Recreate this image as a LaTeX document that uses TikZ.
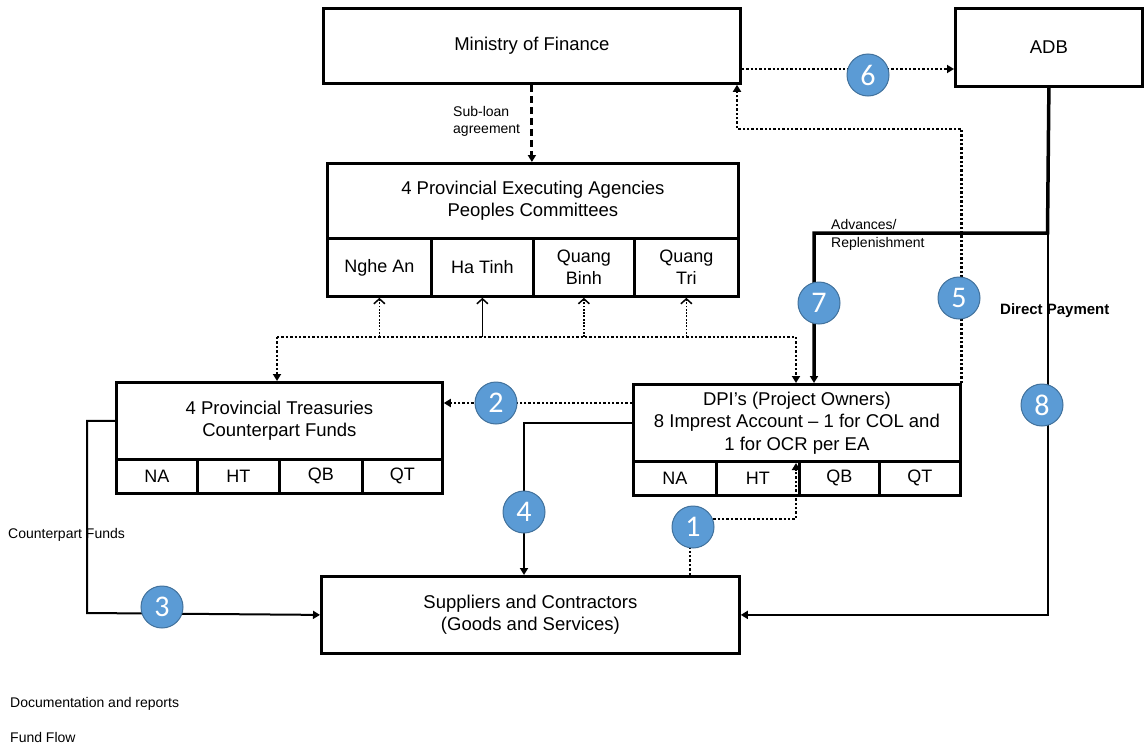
\documentclass[tikz,border=0pt]{standalone}
\usepackage{fontspec}
\setmainfont{Liberation Sans}
\newfontfamily\numfont{Carlito}
\usetikzlibrary{arrows.meta,calc}
\definecolor{cblue}{HTML}{5B9BD5}
\definecolor{cblueb}{HTML}{41719C}
\tikzset{
 box/.style={draw, line width=2.8pt, inner sep=0pt, align=center, anchor=north west, font=\fontsize{18.5}{22.5}\selectfont},
 cell/.style={box, font=\fontsize{18}{22}\selectfont},
 num/.style={circle, fill=cblue, draw=cblueb, line width=1pt, minimum size=42pt, inner sep=0pt, text=white, font=\numfont\fontsize{30}{30}\selectfont},
 lbl/.style={inner sep=0pt, align=left, font=\fontsize{14}{17.5}\selectfont},
 fund/.style={line width=2pt},
 strong/.style={line width=3.5pt},
 doc/.style={line width=2.7pt, dash pattern=on 2.4pt off 2pt},
 thindoc/.style={line width=1.8pt, dash pattern=on 1.8pt off 1.5pt},
 subloan/.style={line width=3pt, dash pattern=on 7pt off 4pt},
 tip/.style={-{Triangle[length=7pt,width=8pt]}},
 opentip/.style={-{Straight Barb[length=5pt,width=11pt,line width=1.5pt]}},
}
\begin{document}
\begin{tikzpicture}[x=1pt,y=-1pt]
\useasboundingbox (0,0) rectangle (1144,747);
% boxes
\node[box, minimum width=417pt, minimum height=75pt] (mof) at (322,7) {Ministry of Finance};
\node[box, minimum width=187pt, minimum height=78pt] (adb) at (954,7) {ADB};
\node[box, minimum width=411pt, minimum height=75pt] (pea) at (326,162) {4 Provincial Executing Agencies\\Peoples Committees};
\node[cell, minimum width=104pt, minimum height=58pt] (pna) at (326,237) {Nghe An};
\node[cell, minimum width=102pt, minimum height=58pt] (pht) at (430,237) {Ha Tinh};
\node[cell, minimum width=101pt, minimum height=58pt] (pqb) at (532,237) {Quang\\Binh};
\node[cell, minimum width=104pt, minimum height=58pt] (pqt) at (633,237) {Quang\\Tri};
\node[box, minimum width=326pt, minimum height=77pt] (tre) at (115,381) {4 Provincial Treasuries\\Counterpart Funds};
\node[cell, minimum width=81pt, minimum height=34pt] (tna) at (115,458) {NA};
\node[cell, minimum width=82pt, minimum height=34pt] (tht) at (196,458) {HT};
\node[cell, minimum width=83pt, minimum height=34pt] (tqb) at (278,458) {QB};
\node[cell, minimum width=80pt, minimum height=34pt] (tqt) at (361,458) {QT};
\node[box, minimum width=327pt, minimum height=77pt] (dpi) at (632,383) {DPI’s (Project Owners)\\8 Imprest Account – 1 for COL and\\1 for OCR per EA};
\node[cell, minimum width=83pt, minimum height=34pt] (dna) at (632,460) {NA};
\node[cell, minimum width=83pt, minimum height=34pt] (dht) at (715,460) {HT};
\node[cell, minimum width=80pt, minimum height=34pt] (dqb) at (798,460) {QB};
\node[cell, minimum width=81pt, minimum height=34pt] (dqt) at (878,460) {QT};
\node[box, minimum width=418pt, minimum height=77pt] (sup) at (320,575) {Suppliers and Contractors\\(Goods and Services)};
% coordinates
\coordinate (p1) at (693,527);
\coordinate (p2) at (496,403);
\coordinate (p3) at (162,607);
\coordinate (p4) at (524,512);
\coordinate (p5) at (959,298);
\coordinate (p6) at (868,75);
\coordinate (p7) at (819,303);
\coordinate (p8) at (1042,405);
% sub-loan
\draw[subloan, tip] (mof.south) -- (mof.south |- pea.north);
\node[lbl, anchor=north west] (sl) at (453,106) {Sub-loan\\agreement};
% 6
\coordinate (a6) at (739,69);
\draw[doc, tip] (a6 -| mof.east) -- (a6 -| adb.west);
% 5
\coordinate (k5) at (737,129);
\draw[doc, tip] (dpi.north east) |- (k5) -- (k5 |- mof.south);
% 7
\coordinate (j7) at (1047.5,233);
\coordinate (t7) at (814,233);
\draw[strong, tip] (adb.south) -- (j7) -- (t7) -- (t7 |- dpi.north);
\node[lbl, anchor=north west] (adv) at (831,219.5) {Advances/\\Replenishment};
% 8
\draw[fund, tip] (j7) |- (sup.east);
\node[lbl, anchor=west, font=\fontsize{15}{18}\selectfont\bfseries] (dp) at (1000,311) {Direct Payment};
% 2
\draw[doc, tip] (p2 -| dpi.west) -- (p2 -| tre.east);
% 4
\draw[fund, tip] (dpi.west) -| (p4 |- sup.north);
% 3
\coordinate (k3) at (87,613);
\draw[fund, tip] (tre.west) -| (k3) -- (sup.west);
\node[lbl, anchor=west] (cf) at (8,535) {Counterpart Funds};
% 1
\coordinate (b1) at (690,519);
\coordinate (a1) at (796,463);
\draw[doc, tip] (b1 |- sup.north) -- (b1) -| (a1);
% network to PEA / treasuries / DPI
\coordinate (h1) at (277,337);
\coordinate (h2) at (796,337);
\draw[doc] (h1) -- (h2);
\draw[doc, tip] (h1) -- (h1 |- tre.north);
\draw[doc, tip] (h2) -- (h2 |- dpi.north);
\draw[thindoc, opentip] (pna.south |- h1) -- (pna.south);
\draw[line width=1.4pt, opentip] (pht.south |- h1) -- (pht.south);
\draw[thindoc, opentip] (pqb.south |- h1) -- (pqb.south);
\draw[thindoc, opentip] (pqt.south |- h1) -- (pqt.south);
% number circles
\node[num] (n1) at (p1) {1};
\node[num] (n2) at (p2) {2};
\node[num] (n3) at (p3) {3};
\node[num] (n4) at (p4) {4};
\node[num] (n5) at (p5) {5};
\node[num] (n6) at (p6) {6};
\node[num] (n7) at (p7) {7};
\node[num] (n8) at (p8) {8};
% legend texts
\node[lbl, anchor=west] (leg1) at (10,704) {Documentation and reports};
\node[lbl, anchor=west] (leg2) at (10,737) {Fund Flow};
\end{tikzpicture}
\end{document}
